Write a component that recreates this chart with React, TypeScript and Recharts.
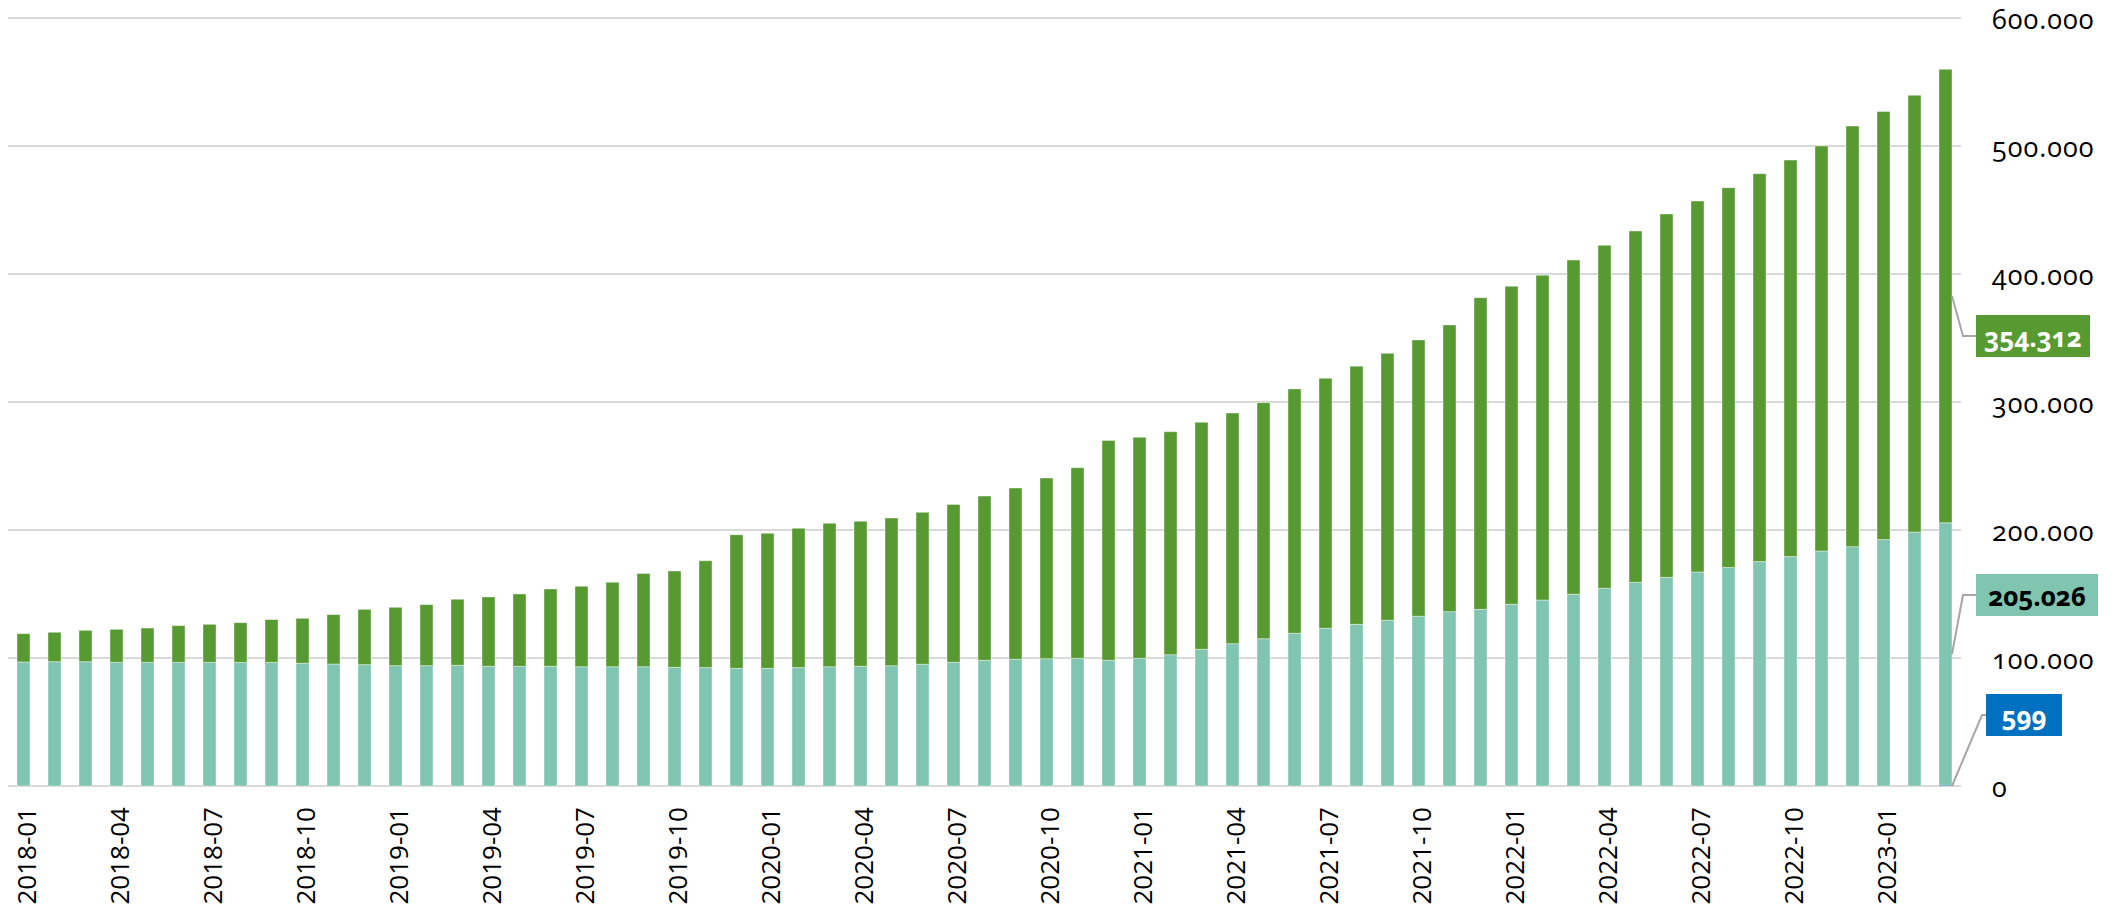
import { Bar, BarChart, CartesianGrid, LabelList, XAxis, YAxis } from "recharts";

const months = [
  "2018-01", "2018-02", "2018-03", "2018-04", "2018-05", "2018-06", "2018-07", "2018-08", "2018-09", "2018-10", "2018-11", "2018-12",
  "2019-01", "2019-02", "2019-03", "2019-04", "2019-05", "2019-06", "2019-07", "2019-08", "2019-09", "2019-10", "2019-11", "2019-12",
  "2020-01", "2020-02", "2020-03", "2020-04", "2020-05", "2020-06", "2020-07", "2020-08", "2020-09", "2020-10", "2020-11", "2020-12",
  "2021-01", "2021-02", "2021-03", "2021-04", "2021-05", "2021-06", "2021-07", "2021-08", "2021-09", "2021-10", "2021-11", "2021-12",
  "2022-01", "2022-02", "2022-03", "2022-04", "2022-05", "2022-06", "2022-07", "2022-08", "2022-09", "2022-10", "2022-11", "2022-12",
  "2023-01", "2023-02", "2023-03",
];

// bottom segment (light teal)
const tealValues = [
  96900, 97100, 97100, 96600, 96600, 96600, 96600, 96600, 96600, 95900, 95300, 94800,
  94000, 94000, 94300, 93500, 93500, 93500, 93200, 93200, 93200, 92700, 92500, 91900,
  91900, 92500, 93200, 93500, 94000, 95100, 96600, 98200, 99000, 99500, 99800, 98200,
  99800, 102600, 106800, 111200, 115100, 119300, 123200, 126300, 129500, 132600, 136200, 138000,
  142000, 145300, 149800, 154500, 159100, 163000, 167200, 170800, 175300, 179200, 183600, 187000,
  192500, 198400, 205026,
];

// top segment (dark green)
const greenValues = [
  22100, 23000, 24500, 25800, 26800, 28700, 29700, 31000, 33400, 35100, 38600, 43200,
  45600, 47700, 51600, 54200, 56500, 60400, 62800, 65900, 72800, 75300, 83500, 104400,
  105500, 108800, 112000, 113300, 115400, 118700, 123400, 128300, 133800, 141100, 148900, 171800,
  172600, 174200, 177300, 180200, 184400, 190900, 195300, 201700, 208500, 215900, 224000, 243500,
  248400, 253700, 261100, 267900, 274500, 283900, 289800, 296600, 303100, 309800, 316400, 328600,
  334500, 341200, 354312,
];

// tiny blue segment, only the last value is shown in the chart
const blueValues: (number | null)[] = [
  null, null, null, null, null, null, null, null, null, null, null, null,
  null, null, null, null, null, null, null, null, null, null, null, null,
  null, null, null, null, null, null, null, null, null, null, null, null,
  null, null, null, null, null, null, null, null, null, null, null, null,
  null, null, null, null, null, null, null, null, null, null, null, null,
  null, null, 599,
];

const yTicks = [0, 100000, 200000, 300000, 400000, 500000, 600000];

const data = months.map((m, i) => ({
  month: m,
  blue: blueValues[i],
  teal: tealValues[i],
  green: greenValues[i],
}));

const FONT = "'Open Sans', sans-serif";
const TEAL = "#7fc5af";
const GREEN = "#579a32";
const BLUE = "#0070c0";
const LAST = months.length - 1;

const fmt = (v: number) => String(Math.round(v)).replace(/\B(?=(\d{3})+(?!\d))/g, ".");

const XTick = (props: any) => {
  const { x, y, payload } = props;
  return (
    <text
      x={x + 2}
      y={y}
      transform={`rotate(-90 ${x + 2} ${y})`}
      textAnchor="end"
      dominantBaseline="central"
      fontFamily={FONT}
      fontSize={26}
      fill="#000"
    >
      {payload.value}
    </text>
  );
};

const YTick = (props: any) => {
  const { x, y, payload } = props;
  return (
    <text
      x={x}
      y={y}
      textAnchor="start"
      dominantBaseline="central"
      fontFamily={FONT}
      fontSize={27}
      letterSpacing={1}
      fill="#000"
      style={{ fontVariantNumeric: "oldstyle-nums" }}
    >
      {fmt(payload.value)}
    </text>
  );
};

function callout(bg: string, fg: string, anchor: "mid" | "bottom", dy: number, boxW: number, boxDx: number) {
  return (props: any) => {
    const { x, y, width, height, index, value } = props;
    if (value == null) return null;
    if (anchor === "mid" && index !== LAST) return null;
    const x0 = x + width;
    const y0 = anchor === "mid" ? y + height / 2 : y + height;
    const ky = y0 + dy;
    const kx = x0 + (anchor === "mid" ? 11 : 30);
    const bx = x0 + boxDx;
    return (
      <g>
        <polyline points={`${x0},${y0} ${kx},${ky} ${bx},${ky}`} fill="none" stroke="#a6a6a6" strokeWidth={2} />
        <rect x={bx} y={ky - 21} width={boxW} height={42} fill={bg} />
        <text
          x={bx + boxW / 2}
          y={ky + 1}
          textAnchor="middle"
          dominantBaseline="central"
          fontFamily={FONT}
          fontWeight={700}
          fontSize={26}
          fill={fg}
          style={{ fontVariantNumeric: "oldstyle-nums" }}
        >
          {fmt(value)}
        </text>
      </g>
    );
  };
}

export default function App() {
  return (
    <div style={{ position: "absolute", left: 0, top: 0, width: 2126, height: 914, background: "#fff" }}>
      <BarChart width={2126} height={914} data={data} margin={{ top: 18, right: 0, bottom: 0, left: 8 }} barCategoryGap={0}>
        <CartesianGrid vertical={false} stroke="#d9d9d9" strokeWidth={2} />
        <XAxis
          dataKey="month"
          interval={2}
          axisLine={false}
          tickLine={false}
          tickSize={0}
          tickMargin={21}
          height={128}
          tick={<XTick />}
        />
        <YAxis
          orientation="right"
          domain={[0, 600000]}
          ticks={yTicks}
          axisLine={false}
          tickLine={false}
          tickSize={0}
          tickMargin={31}
          width={165}
          tick={<YTick />}
        />
        <Bar dataKey="blue" stackId="a" fill={BLUE} barSize={13} isAnimationActive={false}>
          <LabelList dataKey="blue" content={callout(BLUE, "#fff", "bottom", -71, 76, 34)} />
        </Bar>
        <Bar dataKey="teal" stackId="a" fill={TEAL} barSize={13} stroke="#ffffff" strokeOpacity={0.4} strokeWidth={1} isAnimationActive={false}>
          <LabelList dataKey="teal" content={callout(TEAL, "#000", "mid", -59, 122, 24)} />
        </Bar>
        <Bar dataKey="green" stackId="a" fill={GREEN} barSize={13} stroke="#ffffff" strokeOpacity={0.4} strokeWidth={1} isAnimationActive={false}>
          <LabelList dataKey="green" content={callout(GREEN, "#fff", "mid", 40, 114, 24)} />
        </Bar>
      </BarChart>
    </div>
  );
}
